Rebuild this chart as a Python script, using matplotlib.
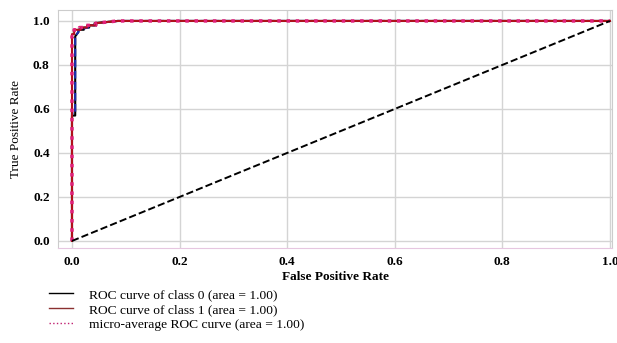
import numpy as np
import matplotlib
matplotlib.use("Agg")
import matplotlib.pyplot as plt
from matplotlib.lines import Line2D

plt.rcParams['font.family'] = ['Liberation Serif', 'DejaVu Serif']

# ROC curve values
fpr_class0 = [0.0, 0.0, 0.006, 0.006, 0.012, 0.012, 0.022, 0.022, 0.032, 0.032, 0.042, 0.042, 0.085, 1.0]
tpr_class0 = [0.0, 0.57, 0.57, 0.93, 0.95, 0.96, 0.96, 0.97, 0.97, 0.98, 0.98, 0.99, 1.0, 1.0]

fpr_class1 = [0.0, 0.0, 0.004, 0.004, 0.016, 0.016, 0.028, 0.028, 0.045, 0.045, 0.085, 1.0]
tpr_class1 = [0.0, 0.94, 0.94, 0.96, 0.96, 0.97, 0.97, 0.98, 0.98, 0.99, 1.0, 1.0]

fpr_micro = [0.0, 0.0, 0.004, 0.004, 0.014, 0.014, 0.026, 0.026, 0.044, 0.044, 0.085, 1.0]
tpr_micro = [0.0, 0.93, 0.93, 0.96, 0.96, 0.97, 0.97, 0.98, 0.98, 0.99, 1.0, 1.0]

fpr_macro = [0.0, 0.0, 0.006, 0.006, 0.012, 0.012, 0.03, 0.03, 0.045, 0.045, 0.085, 1.0]
tpr_macro = [0.0, 0.58, 0.58, 0.93, 0.95, 0.96, 0.97, 0.98, 0.98, 0.99, 1.0, 1.0]

labels = ['ROC curve of class 0 (area = 1.00)',
          'ROC curve of class 1 (area = 1.00)',
          'micro-average ROC curve (area = 1.00)']

fig = plt.figure(figsize=(6.17, 3.43), dpi=100)
ax = fig.add_axes([0.094, 0.277, 0.898, 0.694])

ax.plot(fpr_class0, tpr_class0, color='black', lw=1.5)
ax.plot(fpr_macro, tpr_macro, color='#1a2fb0', lw=1.5, linestyle='--')
ax.plot(fpr_class1, tpr_class1, color='#b0101a', lw=1.5)
ax.plot(fpr_micro, tpr_micro, color='#e0207a', lw=2.5, linestyle=':')
ax.plot([0, 1], [0, 1], 'k--', lw=1.4)

ax.set_xlim(-0.026, 1.004)
ax.set_ylim(-0.032, 1.05)
ticks = [0.0, 0.2, 0.4, 0.6, 0.8, 1.0]
ax.set_xticks(ticks)
ax.set_yticks(ticks)
ax.set_xticklabels(['%.1f' % t for t in ticks], fontsize=9.5, fontweight='bold')
ax.set_yticklabels(['%.1f' % t for t in ticks], fontsize=9.5, fontweight='bold')
ax.tick_params(length=0, pad=6)
ax.grid(True, color='#d4d4d4', lw=1)
ax.set_axisbelow(True)
for s in ax.spines.values():
    s.set_color('#cccccc')
ax.spines['bottom'].set_color('#e6c6e0')

ax.set_xlabel('False Positive Rate', fontsize=9.5, fontweight='bold', labelpad=2)
ax.set_ylabel('True Positive Rate', fontsize=9.5, labelpad=8)

handles = [Line2D([], [], color='black', lw=1),
           Line2D([], [], color='#8a3030', lw=1),
           Line2D([], [], color='#c02070', lw=1, linestyle=':')]
fig.legend(handles, labels, loc='upper left', bbox_to_anchor=(0.07, 0.175),
           frameon=False, fontsize=9.7, handlelength=1.8, handletextpad=1.2,
           labelspacing=0.2, borderaxespad=0)

fig.savefig('out.png', dpi=100)
